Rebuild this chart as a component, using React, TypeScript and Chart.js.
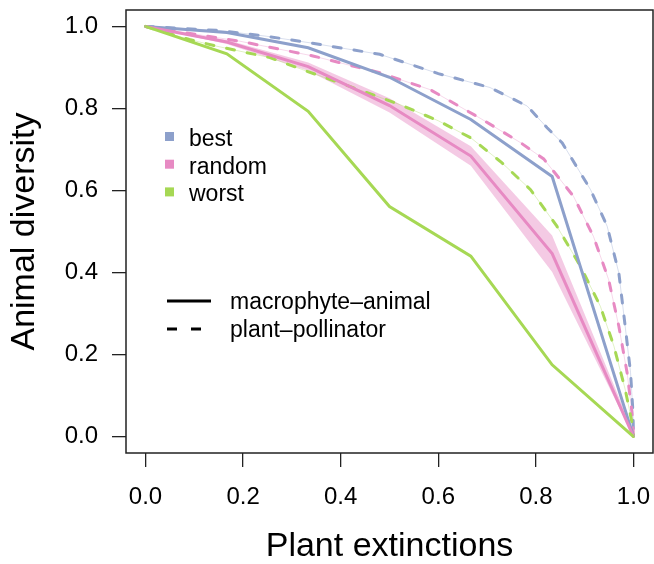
import React, { useEffect, useRef } from "react";
import { Chart, registerables } from "chart.js";

Chart.register(...registerables);

// ---------- data ----------
const stepX = [0, 1 / 6, 2 / 6, 3 / 6, 4 / 6, 5 / 6, 1];

// macrophyte-animal (solid)
const bestMacro = [1, 0.985, 0.948, 0.876, 0.773, 0.634, 0];
const randomMacro = [1, 0.962, 0.902, 0.807, 0.684, 0.446, 0];
const randomMacroLow = [1, 0.957, 0.892, 0.79, 0.66, 0.401, 0];
const randomMacroHigh = [1, 0.967, 0.912, 0.825, 0.708, 0.49, 0.01];
const worstMacro = [1, 0.933, 0.793, 0.561, 0.44, 0.175, 0];

// plant-pollinator (dashed)
const bestPollX = [0, 0.152, 0.248, 0.337, 0.48, 0.6, 0.706, 0.782, 0.823, 0.854, 0.912, 0.946, 0.97, 0.983, 0.994, 0.999, 1];
const bestPollY = [1, 0.99, 0.976, 0.96, 0.932, 0.885, 0.851, 0.806, 0.753, 0.716, 0.602, 0.513, 0.399, 0.269, 0.156, 0.058, 0];

const randomPollX = [0, 0.193, 0.343, 0.48, 0.583, 0.686, 0.768, 0.816, 0.877, 0.918, 0.949, 0.97, 0.987, 0.997, 1];
const randomPollY = [1, 0.964, 0.928, 0.887, 0.846, 0.776, 0.717, 0.677, 0.586, 0.488, 0.383, 0.269, 0.155, 0.058, 0];

const worstPollX = [0, 0.09, 0.145, 0.255, 0.33, 0.42, 0.52, 0.6, 0.667, 0.73, 0.789, 0.843, 0.891, 0.932, 0.96, 0.983, 0.997, 1];
const worstPollY = [1, 0.968, 0.952, 0.924, 0.891, 0.853, 0.81, 0.77, 0.728, 0.668, 0.602, 0.513, 0.416, 0.318, 0.22, 0.115, 0.034, 0];

const tickValues = [0, 0.2, 0.4, 0.6, 0.8, 1.0];
const strategyLabels = ["best", "random", "worst"];
const networkLabels = ["macrophyte\u2013animal", "plant\u2013pollinator"];
const xTitle = "Plant extinctions";
const yTitle = "Animal diversity";

// ---------- styles ----------
const BLUE = "#8DA0CB";
const PINK = "#E78AC3";
const GREEN = "#A6D854";
const strategyColors = [BLUE, PINK, GREEN];
const FONT = '"Liberation Sans", Arial, Helvetica, sans-serif';

const pts = (xs: number[], ys: number[]) => xs.map((x, i) => ({ x, y: ys[i] }));

const legendPlugin = {
  id: "customLegend",
  afterDatasetsDraw(chart: any) {
    const ctx = chart.ctx;
    const area = chart.chartArea;
    ctx.save();
    // box
    ctx.strokeStyle = "#222";
    ctx.lineWidth = 1.5;
    ctx.strokeRect(area.left, area.top, area.right - area.left, area.bottom - area.top);

    ctx.font = `23px ${FONT}`;
    ctx.textBaseline = "alphabetic";
    ctx.textAlign = "left";
    ctx.fillStyle = "#000";
    // strategy legend
    strategyLabels.forEach((lab, i) => {
      const cy = 136.5 + i * 27.7;
      ctx.fillStyle = strategyColors[i];
      ctx.fillRect(165, cy - 4.5, 9, 9);
      ctx.fillStyle = "#000";
      ctx.fillText(lab, 189, cy + 9.5);
    });
    // network legend
    ctx.strokeStyle = "#000";
    ctx.lineWidth = 3;
    ctx.lineCap = "butt";
    ctx.beginPath();
    ctx.moveTo(167, 301);
    ctx.lineTo(211, 301);
    ctx.stroke();
    ctx.beginPath();
    ctx.moveTo(167, 329);
    ctx.lineTo(177, 329);
    ctx.moveTo(191, 329);
    ctx.lineTo(201, 329);
    ctx.stroke();
    ctx.fillText(networkLabels[0], 230, 309);
    ctx.fillText(networkLabels[1], 230, 337);
    ctx.restore();
  },
};

const zeroPad = (s: any) => {
  s.paddingTop = 0;
  s.paddingBottom = 0;
  s.paddingLeft = 0;
  s.paddingRight = 0;
};

export default function App() {
  const ref = useRef<HTMLCanvasElement>(null);

  useEffect(() => {
    if (!ref.current) return;
    const solid = (label: string, ys: number[], color: string, order: number) => ({
      label,
      data: pts(stepX, ys),
      borderColor: color,
      backgroundColor: color,
      borderWidth: 3,
      pointRadius: 0,
      fill: false,
      order,
    });
    const dashed = (label: string, xs: number[], ys: number[], color: string, order: number) => ({
      label,
      data: pts(xs, ys),
      borderColor: color,
      backgroundColor: color,
      borderWidth: 3,
      borderDash: [8, 13],
      borderCapStyle: "round",
      pointRadius: 0,
      fill: false,
      order,
    });
    const faint = (label: string, xs: number[], ys: number[], color: string, order: number) => ({
      label,
      data: pts(xs, ys),
      borderColor: color + "55",
      borderWidth: 1,
      pointRadius: 0,
      fill: false,
      order,
    });

    const chart = new Chart(ref.current, {
      type: "line",
      data: {
        datasets: [
          {
            label: "random band high",
            data: pts(stepX, randomMacroHigh),
            borderWidth: 0,
            borderColor: "rgba(0,0,0,0)",
            backgroundColor: "rgba(231,138,195,0.45)",
            pointRadius: 0,
            fill: "+1",
            order: 20,
          },
          {
            label: "random band low",
            data: pts(stepX, randomMacroLow),
            borderWidth: 0,
            borderColor: "rgba(0,0,0,0)",
            pointRadius: 0,
            fill: false,
            order: 19,
          },
          faint("best poll band", bestPollX, bestPollY, BLUE, 18),
          faint("random poll band", randomPollX, randomPollY, PINK, 17),
          faint("worst poll band", worstPollX, worstPollY, GREEN, 16),
          dashed("best plant-pollinator", bestPollX, bestPollY, BLUE, 10),
          dashed("random plant-pollinator", randomPollX, randomPollY, PINK, 9),
          dashed("worst plant-pollinator", worstPollX, worstPollY, GREEN, 8),
          solid("best macrophyte-animal", bestMacro, BLUE, 3),
          solid("random macrophyte-animal", randomMacro, PINK, 2),
          solid("worst macrophyte-animal", worstMacro, GREEN, 1),
        ] as any,
      },
      options: {
        animation: false,
        responsive: false,
        devicePixelRatio: 1,
        layout: { padding: { top: 10, right: 1, left: 0, bottom: 0 } },
        plugins: {
          legend: { display: false },
          tooltip: { enabled: false },
        },
        elements: { line: { tension: 0 } },
        scales: {
          x: {
            type: "linear",
            min: -0.04,
            max: 1.04,
            afterBuildTicks: (s: any) => {
              s.ticks = tickValues.map((v) => ({ value: v }));
            },
            afterFit: (s: any) => {
              s.height = 111;
              zeroPad(s);
            },
            border: { display: false },
            grid: { drawOnChartArea: false, drawTicks: true, tickLength: 14, color: "#222", lineWidth: 1.3 },
            ticks: {
              color: "#000",
              padding: 16,
              font: { family: FONT, size: 24 },
              callback: (v: any) => Number(v).toFixed(1),
              maxRotation: 0,
            },
            title: {
              display: true,
              text: xTitle,
              color: "#000",
              font: { family: FONT, size: 34, lineHeight: 1 },
              padding: { top: 0, bottom: 0 },
            },
          },
          y: {
            type: "linear",
            min: -0.04,
            max: 1.04,
            afterBuildTicks: (s: any) => {
              s.ticks = tickValues.map((v) => ({ value: v }));
            },
            afterFit: (s: any) => {
              s.width = 126;
              zeroPad(s);
            },
            border: { display: false },
            grid: { drawOnChartArea: false, drawTicks: true, tickLength: 14, color: "#222", lineWidth: 1.3 },
            ticks: {
              color: "#000",
              padding: 14,
              font: { family: FONT, size: 24 },
              callback: (v: any) => Number(v).toFixed(1),
            },
            title: {
              display: true,
              text: yTitle,
              color: "#000",
              font: { family: FONT, size: 34, lineHeight: 1 },
              padding: { top: 8, bottom: 0 },
            },
          },
        },
      },
      plugins: [legendPlugin],
    });
    return () => chart.destroy();
  }, []);

  return (
    <div style={{ position: "fixed", left: 0, top: 0, width: 654, height: 564, background: "#fff" }}>
      <canvas ref={ref} width={654} height={564} />
    </div>
  );
}
